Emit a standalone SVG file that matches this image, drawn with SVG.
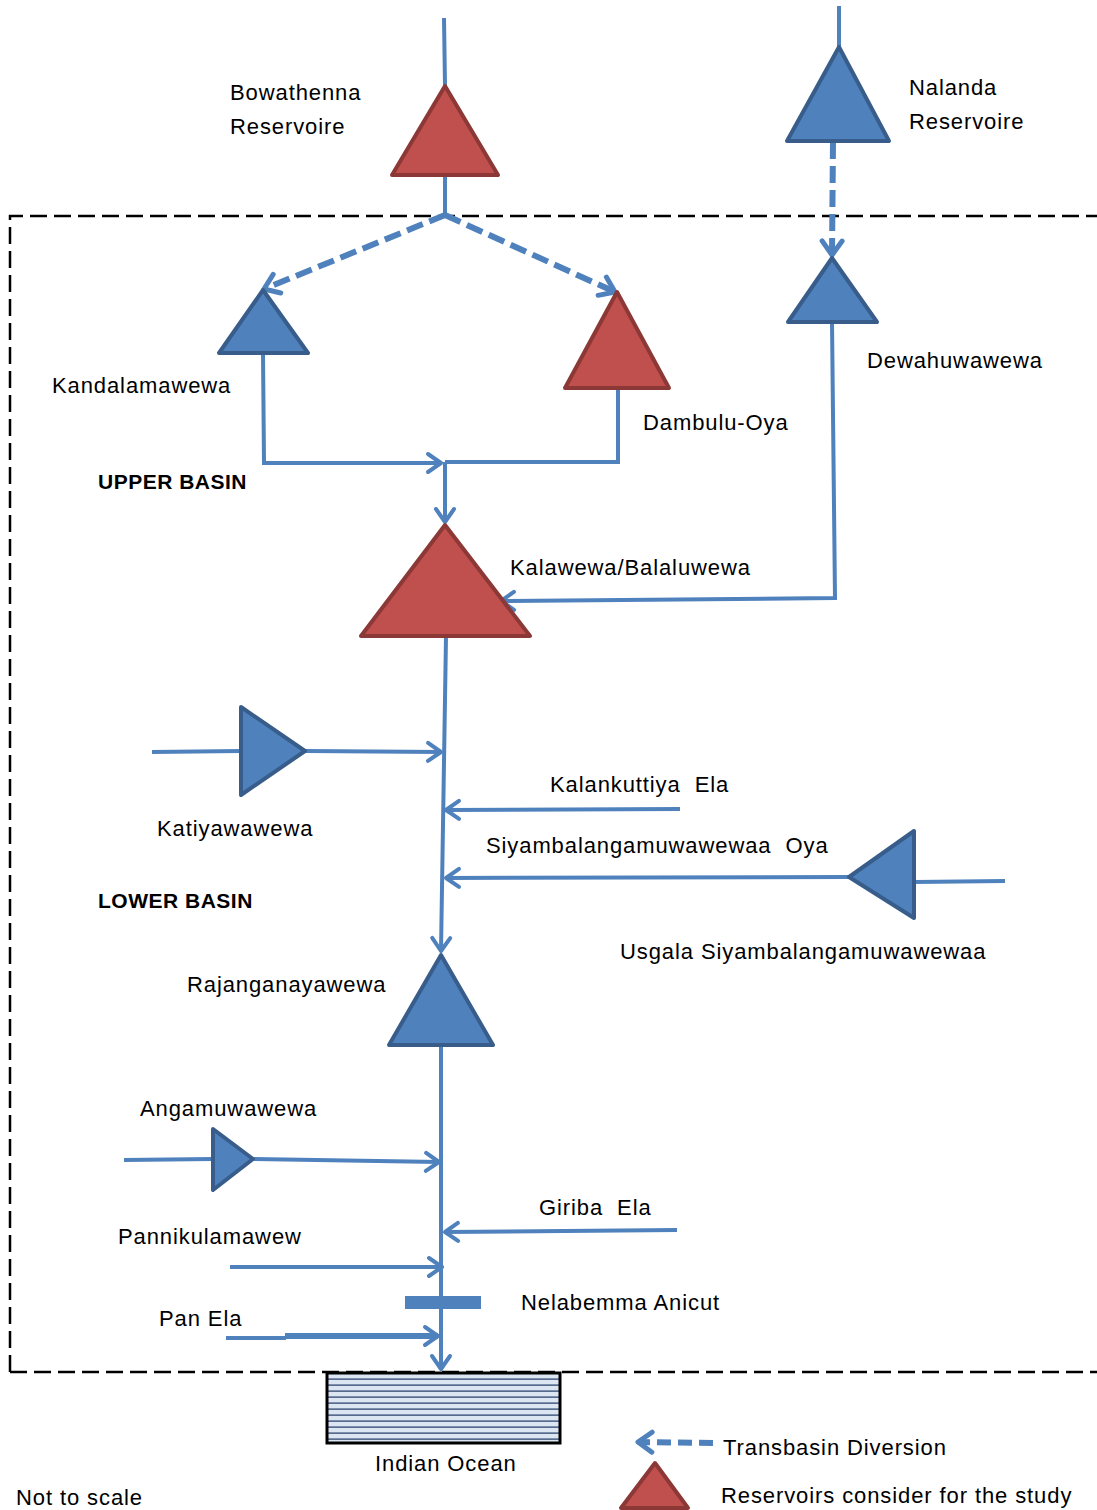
<svg xmlns="http://www.w3.org/2000/svg" width="1097" height="1510" viewBox="0 0 1097 1510">
<style>
text{font-family:"Liberation Sans",Arial,sans-serif;font-size:22px;letter-spacing:0.9px;fill:#000;white-space:pre}
.b{font-weight:bold;font-size:21px;letter-spacing:0.5px}
.ln{stroke:#4F81BD;stroke-width:4;fill:none}
.ln6{stroke:#4F81BD;stroke-width:6;fill:none}
.ds{stroke:#4F81BD;stroke-width:6;fill:none;stroke-dasharray:17 7}
.tb{fill:#4F81BD;stroke:#385D8A;stroke-width:4;stroke-linejoin:round}
.tr{fill:#C0504D;stroke:#8C3836;stroke-width:4;stroke-linejoin:round}
.box{stroke:#000;stroke-width:2.5;fill:none;stroke-dasharray:17 7}
</style>
<defs>
<marker id="a" markerUnits="userSpaceOnUse" viewBox="-2 -12 20 24" markerWidth="20" markerHeight="24" refX="15" refY="0" orient="auto">
<path d="M2,-9 L15,0 L2,9" stroke="#4F81BD" stroke-width="4" fill="none" stroke-linecap="round" stroke-linejoin="round" stroke-dasharray="none"/>
</marker>
<marker id="d" markerUnits="userSpaceOnUse" viewBox="-3 -14 22 28" markerWidth="22" markerHeight="28" refX="16" refY="0" orient="auto">
<path d="M2,-10 L16,0 L2,10" stroke="#4F81BD" stroke-width="5" fill="none" stroke-linecap="round" stroke-linejoin="round" stroke-dasharray="none"/>
</marker>
<pattern id="sea" patternUnits="userSpaceOnUse" width="10" height="6">
<rect width="10" height="6" fill="#DCE6F2"/>
<rect y="4.5" width="10" height="1.2" fill="#1F3864"/>
</pattern>
</defs>

<path class="box" d="M10,1372 L10,216 L1100,216 M10,1372 L1100,1372"/>

<g id="connectors">
<path class="ln" d="M444,18 L445,86"/>
<path class="ln" d="M445,176 L445,215"/>
<path class="ds" d="M445,215 L264,289" marker-end="url(#d)"/>
<path class="ds" d="M445,215 L615,292" marker-end="url(#d)"/>
<path class="ln" d="M839,6 L839,47"/>
<path class="ds" d="M833,142 L832,255" marker-end="url(#d)"/>
<path class="ln" d="M263,353 L264,463 L441,463" marker-end="url(#a)"/>
<path class="ln" d="M618,388 L618,462 L445,462"/>
<path class="ln" d="M445,462 L445,522" marker-end="url(#a)"/>
<path class="ln" d="M832,322 L835,598 L501,601" marker-end="url(#a)"/>
<path class="ln" d="M446,636 L441,951" marker-end="url(#a)"/>
<path class="ln" d="M152,752 L241,751"/>
<path class="ln" d="M306,751 L441,752" marker-end="url(#a)"/>
<path class="ln" d="M680,809 L446,810" marker-end="url(#a)"/>
<path class="ln" d="M1005,881 L914,882"/>
<path class="ln" d="M848,877 L446,878" marker-end="url(#a)"/>
<path class="ln" d="M441,1046 L441,1369" marker-end="url(#a)"/>
<path class="ln" d="M124,1160 L213,1159"/>
<path class="ln" d="M254,1159 L439,1162" marker-end="url(#a)"/>
<path class="ln" d="M677,1230 L445,1232" marker-end="url(#a)"/>
<path class="ln" d="M230,1267 L442,1267" marker-end="url(#a)"/>
<path class="ln" d="M226,1338 L286,1338"/>
<path class="ln6" d="M285,1336 L438,1336" marker-end="url(#a)"/>
</g>

<g id="bowathenna"><polygon class="tr" points="445,86 498,175 392,175"/>
<text x="230" y="100">Bowathenna</text><text x="230" y="134">Reservoire</text></g>
<g id="nalanda"><polygon class="tb" points="839,47 889,141 787,141"/>
<text x="909" y="95">Nalanda</text><text x="909" y="129">Reservoire</text></g>
<g id="kandalamawewa"><polygon class="tb" points="263,290 308,353 219,353"/>
<text x="52" y="393">Kandalamawewa</text></g>
<g id="dambulu"><polygon class="tr" points="617,292 669,388 565,388"/>
<text x="643" y="430">Dambulu-Oya</text></g>
<g id="dewahuwawewa"><polygon class="tb" points="832,258 877,322 788,322"/>
<text x="867" y="368">Dewahuwawewa</text></g>
<g id="upper"><text class="b" x="98" y="489">UPPER BASIN</text></g>
<g id="kalawewa"><polygon class="tr" points="445,525 530,636 361,636"/>
<text x="510" y="575">Kalawewa/Balaluwewa</text></g>
<g id="katiyawawewa"><polygon class="tb" points="241,707 305,751 241,795"/>
<text x="157" y="836">Katiyawawewa</text></g>
<g id="kalankuttiya"><text x="550" y="792">Kalankuttiya  Ela</text></g>
<g id="siyambala"><text x="486" y="853">Siyambalangamuwawewaa  Oya</text></g>
<g id="usgala"><polygon class="tb" points="914,831 914,918 849,877"/>
<text x="620" y="959">Usgala Siyambalangamuwawewaa</text></g>
<g id="lower"><text class="b" x="98" y="908">LOWER BASIN</text></g>
<g id="rajanganaya"><polygon class="tb" points="441,955 493,1045 389,1045"/>
<text x="187" y="992">Rajanganayawewa</text></g>
<g id="angamuwawewa"><polygon class="tb" points="213,1129 253,1159 213,1190"/>
<text x="140" y="1116">Angamuwawewa</text></g>
<g id="giriba"><text x="539" y="1215">Giriba  Ela</text></g>
<g id="pannikulamawew"><text x="118" y="1244">Pannikulamawew</text></g>
<g id="anicut"><rect x="405" y="1296" width="76" height="13" fill="#4F81BD"/>
<text x="521" y="1310">Nelabemma Anicut</text></g>
<g id="panela"><text x="159" y="1326">Pan Ela</text></g>
<g id="ocean"><rect x="327" y="1373" width="233" height="70" fill="url(#sea)" stroke="#000" stroke-width="3"/>
<text x="375" y="1471">Indian Ocean</text></g>
<g id="legend">
<path d="M713,1443 L638,1442" stroke="#4F81BD" stroke-width="6" fill="none" stroke-dasharray="14 7" marker-end="url(#d)"/>
<text x="723" y="1455">Transbasin Diversion</text>
<polygon class="tr" points="655,1463 688,1508 621,1508"/>
<text x="721" y="1503">Reservoirs consider for the study</text>
</g>
<text x="16" y="1505">Not to scale</text>
</svg>
